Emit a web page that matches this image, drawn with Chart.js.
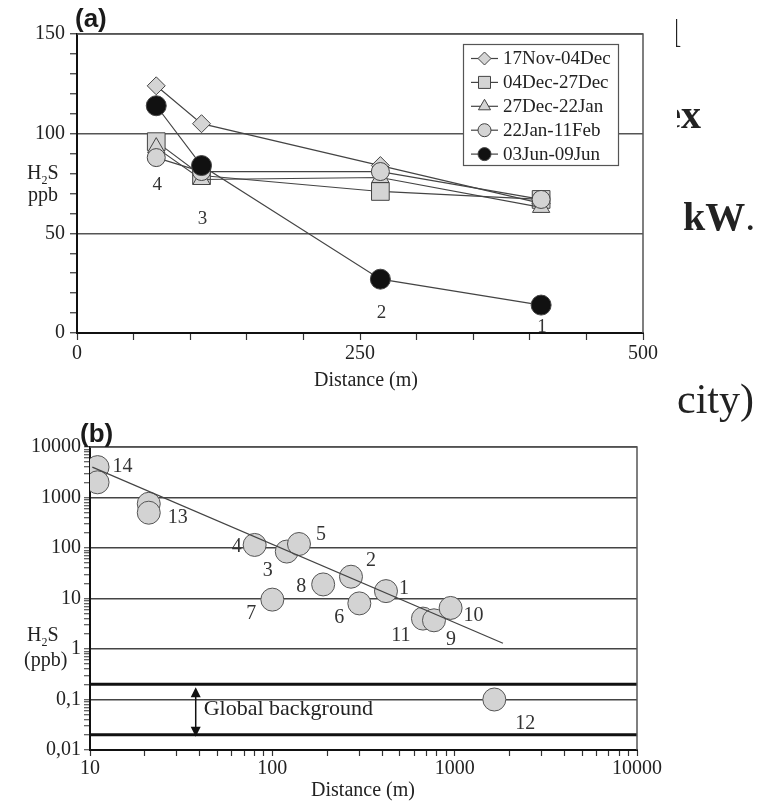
<!DOCTYPE html>
<html>
<head>
<meta charset="utf-8">
<script src="https://cdn.jsdelivr.net/npm/chart.js@4.4.1/dist/chart.umd.min.js"></script>
<style>
body { margin: 0; width: 782px; height: 808px; background: #fff; position: relative; overflow: hidden;
       font-family: "Liberation Serif", "Times New Roman", serif; color: #222; }
canvas { position: absolute; left: 0; }
#chartA { top: 0; }
#chartB { top: 380px; }
.txt { position: absolute; white-space: nowrap; line-height: 1; }
.panel { font-family: "Liberation Sans", Arial, sans-serif; font-weight: bold; font-size: 26px; color: #1a1a1a; }
.axis { font-size: 20px; }
.axis sub { font-size: 12px; }
.center { transform: translateX(-50%); }
.clip { position: absolute; overflow: hidden; }
.clip span { position: absolute; right: 0; top: 0; line-height: 1; }
</style>
</head>
<body>
<canvas id="chartA" width="782" height="380"></canvas>
<canvas id="chartB" width="782" height="428"></canvas>

<div class="txt panel" style="left:75px;top:5px">(a)</div>
<div class="txt panel" style="left:80px;top:420px">(b)</div>

<div class="txt axis" style="left:27px;top:162px">H<sub>2</sub>S</div>
<div class="txt axis" style="left:28px;top:184px">ppb</div>
<div class="txt axis center" style="left:366px;top:369px">Distance (m)</div>

<div class="txt axis" style="left:27px;top:624px">H<sub>2</sub>S</div>
<div class="txt axis" style="left:24px;top:649px">(ppb)</div>
<div class="txt axis center" style="left:363px;top:779px">Distance (m)</div>

<!-- bits of the surrounding page text that were caught in the crop -->
<div class="clip" style="left:676px;top:14px;width:5px;height:42px"><span style="font-size:40px">l</span></div>
<div class="clip" style="left:677px;top:95px;width:24px;height:45px"><span style="font-size:40px;font-weight:bold">ex</span></div>
<div class="txt" style="left:683px;top:197px;font-size:40px;font-weight:bold">kW<span style="font-weight:normal">.</span></div>
<div class="txt" style="left:677px;top:378px;font-size:42px">city)</div>

<script>
// panel (a): H2S along the transect, five campaigns
const distA = [70, 110, 268, 410];
const periodNames = ['17Nov-04Dec', '04Dec-27Dec', '27Dec-22Jan', '22Jan-11Feb', '03Jun-09Jun'];
const h2sNovDec = [124, 105, 84, 65];
const h2sDecDec = [96, 79, 71, 67];
const h2sDecJan = [93, 77, 78, 63];
const h2sJanFeb = [88, 81, 81, 67];
const h2sJunJun = [114, 84, 27, 14];
const siteNumsA = ['4', '3', '2', '1'];
const siteLabelYA = [74, 57, 10, 3];
const xTickLabelsA = [0, 250, 500];
const yTickLabelsA = [0, 50, 100, 150];

// panel (b): all sites, log-log
const siteNumsB = ['14', '', '13', '', '4', '3', '5', '8', '2', '1', '7', '6', '11', '9', '10', '12'];
const distB = [11, 11, 21, 21, 80, 120, 140, 190, 270, 420, 100, 300, 670, 770, 950, 1650];
const h2sB = [4000, 2000, 750, 500, 115, 85, 120, 19, 27, 14, 9.5, 8, 4, 3.7, 6.5, 0.1];
const trendDist = [10.3, 1840];
const trendH2S = [4000, 1.3];
const backgroundLevels = [0.2, 0.02];
const yTicksB = [0.01, 0.1, 1, 10, 100, 1000, 10000];
const yTickLabelsB = ['0,01', '0,1', '1', '10', '100', '1000', '10000'];
const xTicksB = [10, 100, 1000, 10000];
const xTickLabelsB = ['10', '100', '1000', '10000'];

Chart.defaults.font.family = '"Liberation Serif", "Times New Roman", serif';
Chart.defaults.color = '#222';

const toPoints = (xs, ys) => xs.map((x, i) => ({ x: x, y: ys[i] }));

// minor + major ticks for a log axis, one decade at a time
function logTicks(lo, hi) {
    const out = [];
    for (let e = Math.round(Math.log10(lo)); e < Math.round(Math.log10(hi)); e++) {
        for (let k = 1; k <= 9; k++) out.push(Number((k * Math.pow(10, e)).toPrecision(6)));
    }
    out.push(hi);
    return out;
}
const findTick = (list, v) => list.findIndex(t => Math.abs(t - v) < t * 1e-6);

// box round the plot area (top and right edges)
const framePlugin = {
    id: 'frame',
    afterDraw(chart) {
        const a = chart.chartArea, ctx = chart.ctx;
        ctx.save();
        ctx.strokeStyle = '#555';
        ctx.lineWidth = 1.5;
        ctx.beginPath();
        ctx.moveTo(a.left, a.top);
        ctx.lineTo(a.right, a.top);
        ctx.lineTo(a.right, a.bottom);
        ctx.stroke();
        ctx.restore();
    }
};

const markerStyles = [
    { pointStyle: 'rectRot', radius: 9, legendRadius: 6.5, fill: '#d4d4d4' },
    { pointStyle: 'rect', radius: 12.5, legendRadius: 8.5, fill: '#d4d4d4' },
    { pointStyle: 'triangle', radius: 10, legendRadius: 7, fill: '#d4d4d4' },
    { pointStyle: 'circle', radius: 9, legendRadius: 6.5, fill: '#d4d4d4' },
    { pointStyle: 'circle', radius: 10, legendRadius: 6.5, fill: '#111' }
];
const drawOrderA = [4, 3, 2, 1, 0];
const seriesA = [h2sNovDec, h2sDecDec, h2sDecJan, h2sJanFeb, h2sJunJun];

const boxLegend = {
    id: 'boxLegend',
    afterDraw(chart) {
        const ctx = chart.ctx;
        const x0 = 463, y0 = 44, w = 155, h = 121;
        ctx.save();
        ctx.fillStyle = '#fff';
        ctx.fillRect(x0, y0, w, h);
        ctx.strokeStyle = '#555';
        ctx.lineWidth = 1.2;
        ctx.strokeRect(x0 + 0.5, y0 + 0.5, w, h);
        ctx.font = '19px "Liberation Serif", serif';
        ctx.textBaseline = 'middle';
        chart.data.datasets.forEach((ds, i) => {
            const y = 58.5 + i * 23.9;
            ctx.strokeStyle = '#444';
            ctx.lineWidth = 1.2;
            ctx.beginPath();
            ctx.moveTo(471, y);
            ctx.lineTo(498, y);
            ctx.stroke();
            ctx.fillStyle = markerStyles[i].fill;
            ctx.strokeStyle = '#444';
            ctx.lineWidth = 1;
            Chart.helpers.drawPoint(ctx, {
                pointStyle: markerStyles[i].pointStyle,
                radius: markerStyles[i].legendRadius,
                rotation: 0,
                borderWidth: 1
            }, 484.5, y);
            ctx.fillStyle = '#222';
            ctx.fillText(ds.label, 503, y + 1);
        });
        ctx.restore();
    }
};

const siteLabelsA = {
    id: 'siteLabelsA',
    afterDatasetsDraw(chart) {
        const ctx = chart.ctx, xs = chart.scales.x, ys = chart.scales.y;
        ctx.save();
        ctx.font = '19px "Liberation Serif", serif';
        ctx.fillStyle = '#333';
        ctx.textAlign = 'center';
        ctx.textBaseline = 'middle';
        siteNumsA.forEach((t, i) => {
            ctx.fillText(t, xs.getPixelForValue(distA[i]) + 1, ys.getPixelForValue(siteLabelYA[i]));
        });
        ctx.restore();
    }
};

new Chart(document.getElementById('chartA'), {
    type: 'scatter',
    data: {
        datasets: seriesA.map((vals, i) => ({
            label: periodNames[i],
            data: toPoints(distA, vals),
            showLine: true,
            borderColor: '#444',
            borderWidth: 1.2,
            pointStyle: markerStyles[i].pointStyle,
            pointRadius: markerStyles[i].radius,
            pointBackgroundColor: markerStyles[i].fill,
            pointBorderColor: '#444',
            pointBorderWidth: 1,
            order: drawOrderA[i]
        }))
    },
    options: {
        responsive: false,
        animation: false,
        layout: { padding: { left: 0, right: 139, top: 34, bottom: 0 } },
        plugins: { legend: { display: false }, tooltip: { enabled: false } },
        scales: {
            x: {
                type: 'linear', min: 0, max: 500,
                afterFit: s => { s.height = 47; },
                ticks: {
                    stepSize: 50, autoSkip: false, maxRotation: 0, padding: 2,
                    font: { size: 20 }, color: '#222',
                    callback: v => xTickLabelsA.includes(v) ? String(v) : ''
                },
                grid: { drawOnChartArea: false, tickLength: 7, tickColor: '#333', tickWidth: 1.2 },
                border: { color: '#111', width: 2 }
            },
            y: {
                type: 'linear', min: 0, max: 150,
                afterFit: s => { s.width = 77; },
                ticks: {
                    stepSize: 10, autoSkip: false, padding: 5,
                    font: { size: 20 }, color: '#222',
                    callback: v => yTickLabelsA.includes(v) ? String(v) : ''
                },
                grid: {
                    color: c => (c.tick && c.tick.value > 0 && c.tick.value % 50 === 0) ? '#555' : 'rgba(0,0,0,0)',
                    lineWidth: 1.5, tickLength: 7, tickColor: '#333', tickWidth: 1.2
                },
                border: { color: '#111', width: 2 }
            }
        }
    },
    plugins: [framePlugin, siteLabelsA, boxLegend]
});

// offsets of the site numbers from their circles, in pixels
const labelOffsetB = [[25, 0], [0, 0], [29, 14], [0, 0], [-18, 2], [-19, 19], [22, -9], [-22, 2],
    [20, -16], [18, -2], [-21, 14], [-20, 14], [-22, 17], [17, 19], [23, 8], [31, 24]];

const annotB = {
    id: 'annotB',
    afterDatasetsDraw(chart) {
        const ctx = chart.ctx, xs = chart.scales.x, ys = chart.scales.y;
        ctx.save();
        ctx.font = '20px "Liberation Serif", serif';
        ctx.fillStyle = '#333';
        ctx.textAlign = 'center';
        ctx.textBaseline = 'middle';
        siteNumsB.forEach((t, i) => {
            if (!t) return;
            ctx.fillText(t, xs.getPixelForValue(distB[i]) + labelOffsetB[i][0],
                ys.getPixelForValue(h2sB[i]) + labelOffsetB[i][1]);
        });

        // double arrow spanning the global background band
        const ax = xs.getPixelForValue(38);
        const top = ys.getPixelForValue(backgroundLevels[0]) + 3;
        const bot = ys.getPixelForValue(backgroundLevels[1]) + 2;
        ctx.strokeStyle = '#111';
        ctx.fillStyle = '#111';
        ctx.lineWidth = 1.5;
        ctx.beginPath();
        ctx.moveTo(ax, top + 6);
        ctx.lineTo(ax, bot - 6);
        ctx.stroke();
        ctx.beginPath();
        ctx.moveTo(ax, top); ctx.lineTo(ax - 5, top + 10); ctx.lineTo(ax + 5, top + 10); ctx.closePath();
        ctx.moveTo(ax, bot); ctx.lineTo(ax - 5, bot - 10); ctx.lineTo(ax + 5, bot - 10); ctx.closePath();
        ctx.fill();

        ctx.font = '22px "Liberation Serif", serif';
        ctx.fillStyle = '#222';
        ctx.textAlign = 'left';
        ctx.fillText('Global background', ax + 8, ys.getPixelForValue(0.063));
        ctx.restore();
    }
};

new Chart(document.getElementById('chartB'), {
    type: 'scatter',
    data: {
        datasets: [
            {
                label: 'trend',
                data: toPoints(trendDist, trendH2S),
                showLine: true, borderColor: '#444', borderWidth: 1.2,
                pointRadius: 0, order: 0
            },
            ...backgroundLevels.map(lvl => ({
                label: 'background ' + lvl,
                data: toPoints(xTicksB, xTicksB.map(() => lvl)),
                showLine: true, borderColor: '#111', borderWidth: 3,
                pointRadius: 0, order: 1
            })),
            {
                label: 'sites',
                data: toPoints(distB, h2sB),
                showLine: false,
                pointRadius: 11.5,
                pointBackgroundColor: '#d3d3d3',
                pointBorderColor: '#555',
                pointBorderWidth: 1,
                order: 2
            }
        ]
    },
    options: {
        responsive: false,
        animation: false,
        layout: { padding: { left: 0, right: 145, top: 67, bottom: 0 } },
        plugins: { legend: { display: false }, tooltip: { enabled: false } },
        scales: {
            x: {
                type: 'logarithmic', min: 10, max: 10000,
                afterFit: s => { s.height = 58; },
                afterBuildTicks: s => { s.ticks = logTicks(10, 10000).map(v => ({ value: v })); },
                ticks: {
                    autoSkip: false, maxRotation: 0, padding: 1,
                    font: { size: 20 }, color: '#222',
                    callback: v => { const k = findTick(xTicksB, v); return k >= 0 ? xTickLabelsB[k] : ''; }
                },
                grid: { drawOnChartArea: false, tickLength: 6, tickColor: '#333', tickWidth: 1.2 },
                border: { color: '#111', width: 2 }
            },
            y: {
                type: 'logarithmic', min: 0.01, max: 10000,
                afterFit: s => { s.width = 90; },
                afterBuildTicks: s => { s.ticks = logTicks(0.01, 10000).map(v => ({ value: v })); },
                ticks: {
                    autoSkip: false, padding: 3,
                    font: { size: 20 }, color: '#222',
                    callback: v => { const k = findTick(yTicksB, v); return k >= 0 ? yTickLabelsB[k] : ''; }
                },
                grid: {
                    color: c => (c.tick && findTick(yTicksB, c.tick.value) >= 0) ? '#444' : 'rgba(0,0,0,0)',
                    lineWidth: 1.5, tickLength: 6, tickColor: '#333', tickWidth: 1
                },
                border: { color: '#111', width: 2 }
            }
        }
    },
    plugins: [framePlugin, annotB]
});
</script>
</body>
</html>
